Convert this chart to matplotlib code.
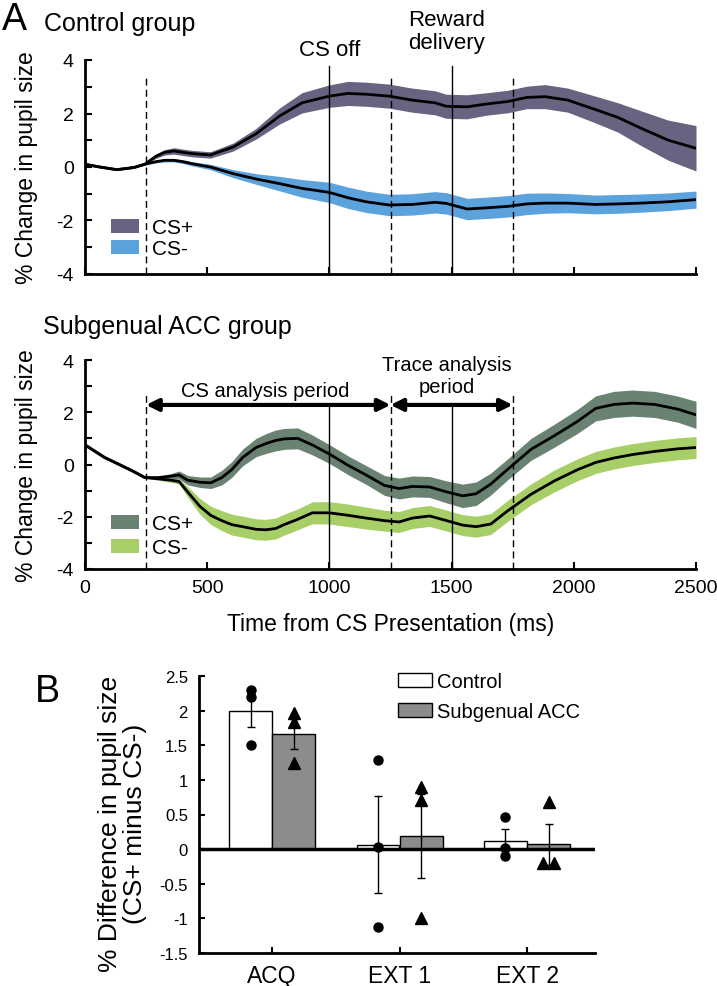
import matplotlib
matplotlib.use('Agg')
import matplotlib.pyplot as plt
from matplotlib.patches import Patch
import numpy as np

plt.rcParams['font.family'] = ['Liberation Sans', 'DejaVu Sans']
plt.rcParams['axes.unicode_minus'] = False

# ---------------- data: Control group ----------------
t_ctrl = [0, 60, 130, 200, 244, 290, 326, 364, 400, 439, 513, 607, 701, 795, 888,
          1000, 1076, 1150, 1244, 1338, 1432, 1478, 1563, 1638, 1731, 1807, 1882,
          1975, 2088, 2181, 2275, 2387, 2500]
ctrl_csp = [0.1, 0.0, -0.1, -0.02, 0.1, 0.4, 0.55, 0.6, 0.55, 0.5, 0.45, 0.75, 1.25,
            1.9, 2.4, 2.65, 2.75, 2.72, 2.65, 2.5, 2.4, 2.27, 2.25, 2.35, 2.45, 2.6,
            2.63, 2.5, 2.15, 1.85, 1.45, 1.0, 0.7]
ctrl_csp_err = [0, 0, 0, 0, 0.02, 0.08, 0.1, 0.12, 0.12, 0.12, 0.12, 0.15, 0.2, 0.3,
                0.38, 0.42, 0.45, 0.45, 0.45, 0.45, 0.45, 0.45, 0.45, 0.42, 0.42, 0.42,
                0.45, 0.45, 0.5, 0.55, 0.65, 0.75, 0.85]
ctrl_csm = [0.1, 0.0, -0.1, -0.02, 0.1, 0.2, 0.25, 0.25, 0.2, 0.12, 0.0, -0.25, -0.45,
            -0.62, -0.8, -0.95, -1.15, -1.3, -1.42, -1.4, -1.32, -1.36, -1.57, -1.53,
            -1.47, -1.38, -1.35, -1.35, -1.4, -1.38, -1.35, -1.3, -1.22]
ctrl_csm_err = [0, 0, 0, 0, 0.02, 0.05, 0.06, 0.06, 0.07, 0.08, 0.1, 0.15, 0.2, 0.27,
                0.33, 0.38, 0.4, 0.4, 0.4, 0.4, 0.4, 0.4, 0.4, 0.4, 0.4, 0.4, 0.38,
                0.36, 0.35, 0.35, 0.34, 0.33, 0.32]

# ---------------- data: Subgenual ACC group ----------------
t_sacc = [0, 80, 140, 195, 245, 300, 350, 385, 420, 470, 515, 560, 600, 645, 700, 740,
          780, 815, 870, 930, 1000, 1080, 1150, 1225, 1285, 1340, 1410, 1480, 1545,
          1600, 1660, 1730, 1825, 1920, 2015, 2090, 2165, 2240, 2330, 2425, 2500]
sacc_csp = [0.75, 0.27, 0.0, -0.25, -0.5, -0.5, -0.45, -0.4, -0.6, -0.68, -0.7, -0.5,
            -0.2, 0.27, 0.65, 0.8, 0.92, 0.98, 1.0, 0.75, 0.4, -0.05, -0.4, -0.8,
            -0.92, -0.84, -0.86, -1.05, -1.2, -1.12, -0.75, -0.18, 0.58, 1.1, 1.65,
            2.15, 2.3, 2.35, 2.3, 2.12, 1.9]
sacc_csp_err = [0, 0, 0, 0, 0.02, 0.05, 0.1, 0.15, 0.18, 0.2, 0.22, 0.28, 0.3, 0.32,
                0.35, 0.38, 0.4, 0.4, 0.4, 0.38, 0.36, 0.36, 0.36, 0.38, 0.4, 0.4, 0.4,
                0.42, 0.45, 0.45, 0.42, 0.4, 0.42, 0.44, 0.46, 0.48, 0.5, 0.5, 0.5,
                0.5, 0.52]
sacc_csm = [0.75, 0.27, 0.0, -0.25, -0.5, -0.55, -0.6, -0.65, -1.05, -1.6, -1.95, -2.15,
            -2.3, -2.38, -2.48, -2.5, -2.45, -2.3, -2.1, -1.85, -1.85, -1.95, -2.05,
            -2.15, -2.2, -2.05, -1.97, -2.15, -2.32, -2.38, -2.28, -1.77, -1.14, -0.63,
            -0.2, 0.08, 0.25, 0.38, 0.5, 0.6, 0.65]
sacc_csm_err = [0, 0, 0, 0, 0.02, 0.05, 0.08, 0.1, 0.2, 0.3, 0.35, 0.38, 0.4, 0.4, 0.4,
                0.4, 0.4, 0.4, 0.4, 0.42, 0.43, 0.43, 0.42, 0.4, 0.4, 0.4, 0.4, 0.4,
                0.4, 0.4, 0.4, 0.4, 0.4, 0.42, 0.42, 0.42, 0.42, 0.42, 0.42, 0.42, 0.42]

events_dashed = [250, 1250, 1750]
events_solid = [1000, 1500]

# ---------------- data: panel B ----------------
groups = ['ACQ', 'EXT 1', 'EXT 2']
control_mean = [2.0, 0.06, 0.12]
control_sem = [0.24, 0.70, 0.17]
sacc_mean = [1.66, 0.19, 0.07]
sacc_sem = [0.22, 0.60, 0.30]
control_pts = [[2.30, 2.20, 1.50], [1.29, 0.03, -1.13], [0.47, 0.02, -0.10]]
sacc_pts = [[1.97, 1.83, 1.25], [0.90, 0.71, -0.99], [0.68, -0.20, -0.20]]

# ---------------- styles ----------------
c_ctrl_p, c_ctrl_m = '#676381', '#5CA2DD'
c_sacc_p, c_sacc_m = '#6A8272', '#A7CE67'
NARROW = ['Liberation Sans Narrow', 'Liberation Sans', 'DejaVu Sans']
W, H = 717, 987

fig = plt.figure(figsize=(W / 100, H / 100), dpi=100)


def axes_px(l, t, r, b):
    return fig.add_axes([l / W, 1 - b / H, (r - l) / W, (b - t) / H])


ax1 = axes_px(85, 61, 696, 275)
ax2 = axes_px(85, 361, 696, 570)
ax3 = axes_px(199, 677, 595, 954)


def style_ts(ax, show_xlabels):
    for s in ['top', 'right']:
        ax.spines[s].set_visible(False)
    for s in ['left', 'bottom']:
        ax.spines[s].set_linewidth(2)
    ax.set_xlim(0, 2500)
    ax.set_ylim(-4, 4)
    ax.set_yticks([-4, -2, 0, 2, 4])
    ax.set_yticks([-3, -1, 1, 3], minor=True)
    ax.set_xticks([0, 500, 1000, 1500, 2000, 2500])
    ax.tick_params(which='both', direction='in', length=5, width=1.5)
    ax.tick_params(axis='y', labelsize=14, pad=8)
    ax.tick_params(axis='x', labelsize=14, pad=7)
    if not show_xlabels:
        ax.set_xticklabels([])
    ax.set_ylabel('% Change in pupil size', fontsize=16.5)
    ax.yaxis.set_label_coords(-0.077, 0.5)


def draw_ts(ax, t, yp, ep, ym, em, cp, cm, dtop, stop):
    t = np.array(t)
    yp, ep, ym, em = map(np.array, (yp, ep, ym, em))
    ax.fill_between(t, ym - em, ym + em, color=cm, lw=0, zorder=2)
    ax.fill_between(t, yp - ep, yp + ep, color=cp, lw=0, zorder=2.5)
    for x in events_dashed:
        ax.axvline(x, ymin=0, ymax=(dtop + 4) / 8, color='k', lw=1, ls=(0, (5, 3)), zorder=3)
    for x in events_solid:
        ax.axvline(x, ymin=0, ymax=(stop + 4) / 8, color='k', lw=1, zorder=3)
    ax.plot(t, ym, color='k', lw=2, zorder=4)
    ax.plot(t, yp, color='k', lw=2, zorder=4)


draw_ts(ax1, t_ctrl, ctrl_csp, ctrl_csp_err, ctrl_csm, ctrl_csm_err, c_ctrl_p, c_ctrl_m, 3.38, 3.78)
style_ts(ax1, False)
draw_ts(ax2, t_sacc, sacc_csp, sacc_csp_err, sacc_csm, sacc_csm_err, c_sacc_p, c_sacc_m, 2.78, 2.25)
style_ts(ax2, True)
ax2.set_xlabel('Time from CS Presentation (ms)', fontsize=16.5, labelpad=12)

ax1.legend(handles=[Patch(facecolor=c_ctrl_p, edgecolor='none', label='CS+'),
                    Patch(facecolor=c_ctrl_m, edgecolor='none', label='CS-')],
           loc='lower left', bbox_to_anchor=(0.0426, 0.075), frameon=False, fontsize=15,
           handlelength=1.35, handleheight=0.65, handletextpad=0.6, labelspacing=0.1,
           borderpad=0, borderaxespad=0)
ax2.legend(handles=[Patch(facecolor=c_sacc_p, edgecolor='none', label='CS+'),
                    Patch(facecolor=c_sacc_m, edgecolor='none', label='CS-')],
           loc='lower left', bbox_to_anchor=(0.0426, 0.057), frameon=False, fontsize=15,
           handlelength=1.35, handleheight=0.65, handletextpad=0.6, labelspacing=0.25,
           borderpad=0, borderaxespad=0)

ax1.text(1000, 4.41, 'CS off', ha='center', va='center', fontsize=16, clip_on=False)
ax1.text(1480, 5.08, 'Reward\ndelivery', ha='center', va='center', fontsize=16,
         clip_on=False, linespacing=1.15)

for a, b in [(250, 1250), (1250, 1750)]:
    ax2.annotate('', xy=(b, 2.28), xytext=(a, 2.28),
                 arrowprops=dict(arrowstyle='<|-|>', lw=3, color='k',
                                 mutation_scale=18, shrinkA=0, shrinkB=0), zorder=5)
ax2.text(736, 2.82, 'CS analysis period', ha='center', va='center', fontsize=14.5)
ax2.text(1481, 3.39, 'Trace analysis\nperiod', ha='center', va='center', fontsize=14.5,
         linespacing=1.2)

fig.text(2 / W, 1 - 2 / H, 'A', fontsize=27, ha='left', va='top')
fig.text(44 / W, 1 - 24 / H, 'Control group', fontsize=18, ha='left', va='center')
fig.text(43 / W, 1 - 327 / H, 'Subgenual ACC group', fontsize=18, ha='left', va='center')
fig.text(47 / W, 1 - 692 / H, 'B', fontsize=27, ha='center', va='center')

# ---------------- panel B ----------------
x = np.arange(len(groups))
bw = 0.337
off = 0.169
ax3.bar(x - off, control_mean, width=bw, color='white', edgecolor='k', lw=1, zorder=2,
        label='Control')
ax3.bar(x + off, sacc_mean, width=bw, color='#8C8C8C', edgecolor='k', lw=1, zorder=2,
        label='Subgenual ACC')
ax3.errorbar(x - off, control_mean, yerr=control_sem, fmt='none', ecolor='k',
             elinewidth=1, capsize=3, capthick=1, zorder=5)
ax3.errorbar(x + off, sacc_mean, yerr=sacc_sem, fmt='none', ecolor='k',
             elinewidth=1, capsize=3, capthick=1, zorder=5)
ax3.axhline(0, color='k', lw=2.5, zorder=4)
jitter = [[0, 0, 0], [0, 0, 0], [0, -0.045, 0.045]]
for i in range(len(groups)):
    ax3.plot([x[i] - off] * len(control_pts[i]), control_pts[i], 'o', color='k', ms=6.5,
             zorder=6, clip_on=False)
    ax3.plot([x[i] + off + j for j in jitter[i]], sacc_pts[i], '^', color='k', ms=8,
             zorder=6, clip_on=False)

ax3.set_xlim(-0.573, 2.533)
ax3.set_ylim(-1.5, 2.5)
yt = np.arange(-1.5, 2.51, 0.5)
ax3.set_yticks(yt)
ax3.set_yticklabels(['%g' % v for v in yt])
ax3.set_xticks(x)
ax3.set_xticklabels(groups)
for s in ['top', 'right']:
    ax3.spines[s].set_visible(False)
for s in ['left', 'bottom']:
    ax3.spines[s].set_linewidth(2)
ax3.tick_params(direction='in', length=4, width=1.5)
ax3.tick_params(axis='y', labelsize=12, pad=8)
ax3.tick_params(axis='x', labelsize=16.5, pad=8)
ax3.set_ylabel('% Difference in pupil size\n(CS+ minus CS-)', fontsize=19,
               linespacing=1.08, family=NARROW)
ax3.yaxis.set_label_coords(-0.131, 0.47)
ax3.legend(loc='upper left', bbox_to_anchor=(0.5025, 1.015), frameon=False, fontsize=14.5,
           handlelength=1.7, handleheight=0.7, handletextpad=0.25, labelspacing=0.55,
           borderpad=0, borderaxespad=0)

fig.savefig('out.png', dpi=100)
